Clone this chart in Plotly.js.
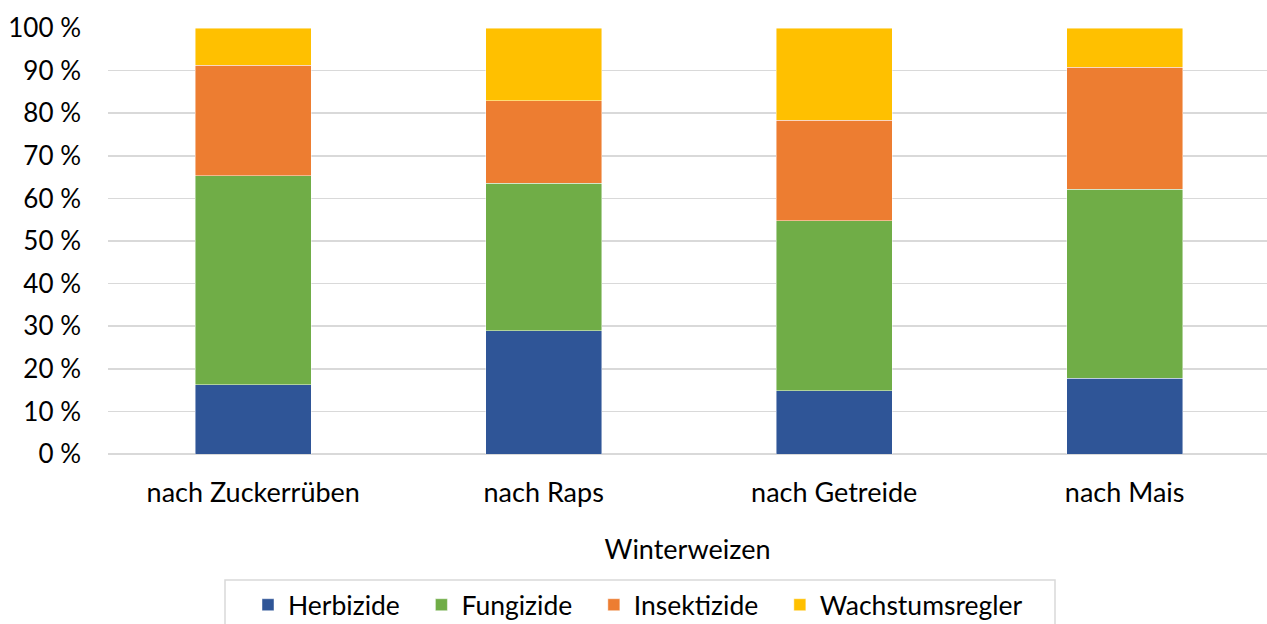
<!DOCTYPE html>
<html>
<head>
<meta charset="utf-8">
<script src="https://cdn.plot.ly/plotly-3.0.1.min.js"></script>
<style>html,body{margin:0;padding:0;background:#fff;}#chart{width:1267px;height:624px;}</style>
</head>
<body>
<div id="chart"></div>
<script>
const categories = ["nach Zuckerrüben", "nach Raps", "nach Getreide", "nach Mais"];
const herbizide = [16.2, 28.9, 14.8, 17.8];
const fungizide = [49.1, 34.7, 39.9, 44.4];
const insektizide = [26.0, 19.3, 23.7, 28.6];
const wachstumsregler = [8.7, 17.1, 21.6, 9.2];
const seriesNames = ["Herbizide", "Fungizide", "Insektizide", "Wachstumsregler"];
const seriesColors = ["#2F5597", "#70AD47", "#ED7D31", "#FFC000"];
const seriesValues = [herbizide, fungizide, insektizide, wachstumsregler];

const traces = seriesValues.map((vals, i) => ({
  type: "bar",
  name: seriesNames[i] + "\u2002\u2009",
  x: categories,
  y: vals,
  marker: {color: seriesColors[i], line: {color: "rgba(255,255,255,0.6)", width: 0.75}},
  hoverinfo: "skip"
}));

const family = "Lato, 'Open Sans', sans-serif";
const tickFontY = {family: family, color: "#000000", size: 26};
const tickFontX = {family: family, color: "#000000", size: 27};
const legendFont = {family: family, color: "#000000", size: 26.5};

const layout = {
  width: 1267, height: 624,
  margin: {l: 108, r: 0, t: 28, b: 170, pad: 0},
  paper_bgcolor: "#ffffff",
  plot_bgcolor: "#ffffff",
  barmode: "stack",
  bargap: 0.6,
  showlegend: true,
  font: tickFontY,
  xaxis: {
    type: "category",
    range: [-0.5, 3.49],
    showgrid: false,
    zeroline: false,
    showline: false,
    ticks: "",
    ticklabelstandoff: 20,
    tickfont: tickFontX,
    title: {text: "Winterweizen", font: tickFontX, standoff: 33}
  },
  yaxis: {
    range: [0, 100],
    dtick: 10,
    tick0: 0,
    ticksuffix: " %",
    showgrid: true,
    gridcolor: "#d9d9d9",
    gridwidth: 1.5,
    zeroline: true,
    zerolinecolor: "#d9d9d9",
    zerolinewidth: 1.5,
    showline: false,
    ticks: "",
    ticklabelstandoff: 26,
    tickfont: tickFontY
  },
  legend: {
    orientation: "h",
    xref: "container", yref: "container",
    x: 248 / 1267, xanchor: "left",
    y: (624 - 581) / 624, yanchor: "top",
    borderwidth: 0,
    bgcolor: "rgba(0,0,0,0)",
    font: legendFont,
    traceorder: "normal",
    itemwidth: 30
  },
  shapes: [{
    type: "rect", xref: "paper", yref: "paper",
    x0: (225 - 108) / 1159, x1: (1055 - 108) / 1159,
    y0: -(640 - 454) / 426, y1: -(580 - 454) / 426,
    line: {color: "#d9d9d9", width: 1.5},
    fillcolor: "rgba(0,0,0,0)",
    layer: "below"
  }]
};

Plotly.newPlot("chart", traces, layout, {staticPlot: true, displayModeBar: false});
</script>
</body>
</html>
